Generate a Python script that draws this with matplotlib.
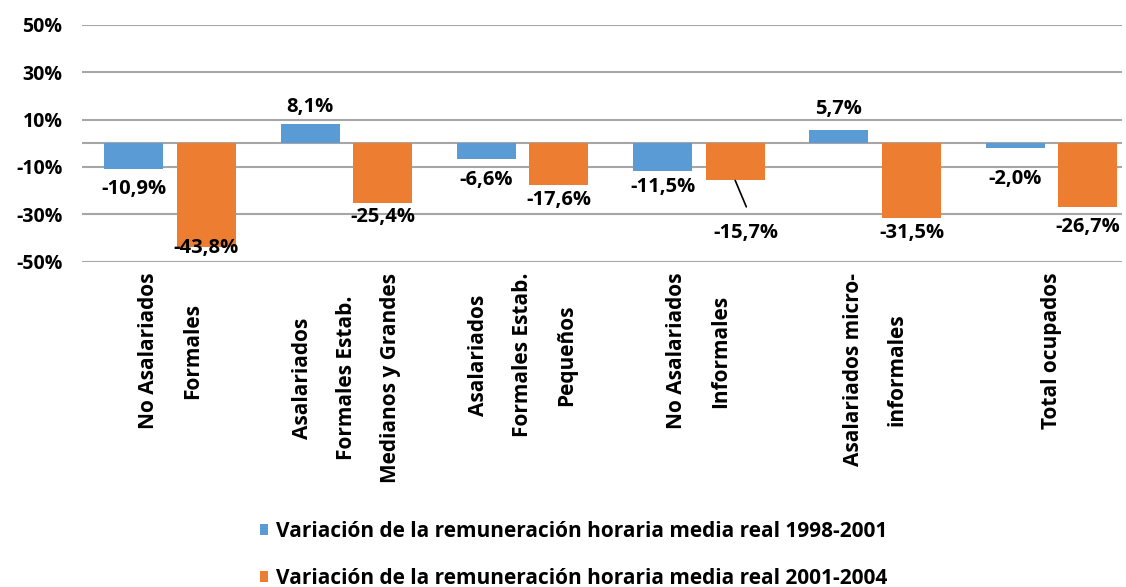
import matplotlib
matplotlib.use("Agg")
import matplotlib.pyplot as plt
import numpy as np

plt.rcParams['font.family'] = ['Open Sans', 'DejaVu Sans']

categories = [
    "No Asalariados\nFormales",
    "Asalariados\nFormales Estab.\nMedianos y Grandes",
    "Asalariados\nFormales Estab.\nPequeños",
    "No Asalariados\nInformales",
    "Asalariados micro-\ninformales",
    "Total ocupados",
]
serie_1998_2001 = [-10.9, 8.1, -6.6, -11.5, 5.7, -2.0]
serie_2001_2004 = [-43.8, -25.4, -17.6, -15.7, -31.5, -26.7]
legend_labels = [
    "Variación de la remuneración horaria media real 1998-2001",
    "Variación de la remuneración horaria media real 2001-2004",
]
yticks = [-50, -30, -10, 10, 30, 50]

# label offsets (points) relative to bar ends
off_blue = [(0, -14), (0, 12), (0, -15), (0, -12), (0, 15), (0, -22)]
off_orange = [(0, -1), (0, -10), (0, -11), (8, -38), (0, -11), (0, -15)]
# leader line end (points) relative to bar end, None = no leader
leader_orange = [None, None, None, (8, -19), None, None]

BLUE = "#5B9BD5"
ORANGE = "#ED7D31"
FS = 14
FS_BIG = 15
LFS = 14.5
FW = 'bold'

fig = plt.figure(figsize=(11.26, 5.87), dpi=100)
ax = fig.add_axes([0.0728, 0.554, 0.9236, 0.404])

x = np.arange(len(categories))
w = 0.335
d = 0.206
b1 = ax.bar(x - d, serie_1998_2001, w, color=BLUE, zorder=3, label=legend_labels[0])
b2 = ax.bar(x + d, serie_2001_2004, w, color=ORANGE, zorder=3, label=legend_labels[1])

def fmt(v):
    return f"{v:.1f}".replace('.', ',') + '%'

for i, (rect, v) in enumerate(zip(b1, serie_1998_2001)):
    ax.annotate(fmt(v), (rect.get_x() + rect.get_width() / 2, v),
                xytext=off_blue[i], textcoords='offset points',
                ha='center', va='center', fontsize=LFS, fontweight=FW, zorder=5)
for i, (rect, v) in enumerate(zip(b2, serie_2001_2004)):
    xc = rect.get_x() + rect.get_width() / 2
    ax.annotate(fmt(v), (xc, v), xytext=off_orange[i], textcoords='offset points',
                ha='center', va='center', fontsize=LFS, fontweight=FW, zorder=5)
    if leader_orange[i] is not None:
        ax.annotate('', (xc, v), xytext=leader_orange[i], textcoords='offset points',
                    arrowprops=dict(arrowstyle='-', color='black', lw=1.2,
                                    shrinkA=0, shrinkB=0), zorder=5)

ax.set_ylim(-50, 50)
ax.set_xlim(-0.5, 5.4)
ax.set_yticks(yticks)
ax.set_yticklabels([f"{t}%" for t in yticks], fontsize=FS, fontweight=FW)
ax.yaxis.grid(True, color='#A6A6A6', lw=1.5, zorder=0)
ax.axhline(0, color='#A6A6A6', lw=1.5, zorder=1)
ax.set_xticks(x)
ax.set_xticklabels(categories, rotation=90, fontsize=FS_BIG, fontweight=FW,
                   multialignment='center', linespacing=2.45)
ax.tick_params(axis='both', length=0)
ax.tick_params(axis='y', pad=14)
ax.tick_params(axis='x', pad=8)
for s in ax.spines.values():
    s.set_visible(False)

leg = fig.legend(handles=[b1, b2], labels=legend_labels, loc='lower left',
                 bbox_to_anchor=(0.214, -0.035), ncol=1, frameon=False,
                 handlelength=0.42, handleheight=0.42, handletextpad=0.35,
                 labelspacing=1.25, prop={'weight': FW, 'size': FS_BIG})

fig.savefig("out.png", dpi=100)
